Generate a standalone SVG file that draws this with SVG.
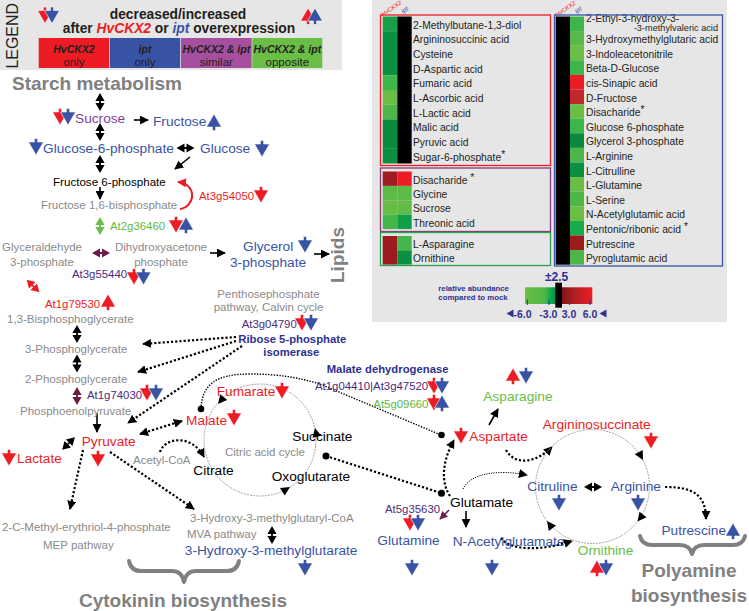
<svg xmlns="http://www.w3.org/2000/svg" width="749" height="611" viewBox="0 0 749 611">
<defs>
<style>
text{font-family:"Liberation Sans",Arial,sans-serif}
.g{fill:#8a8a8a;font-size:11.5px}
.b{fill:#3953a4;font-size:13.7px}
.r{fill:#ed1c24;font-size:13.7px}
.k{fill:#000;font-size:13.7px}
.gr{fill:#6abd45;font-size:13.7px}
.gene{font-size:11.4px;fill:#4b2c80}
.nv{fill:#2e3192;font-weight:bold;font-size:11.3px}
.sec{fill:#808080;font-weight:bold;font-size:19px}
.hm{font-size:10.3px;fill:#231f20}
.R{fill:#ed1c24}.B{fill:#3953a4}
.tri{stroke:#fff;stroke-width:0.6}
.dot{fill:none;stroke:#000;stroke-width:2.2;stroke-dasharray:2.2 2}
.dot2{fill:none;stroke:#000;stroke-width:1.4;stroke-dasharray:1.4 1.4}
.thin{fill:none;stroke:#000;stroke-width:1;stroke-dasharray:1.2 1.2}
.sol{fill:none;stroke:#000;stroke-width:1.6}
.cyc{fill:none;stroke:#8a8a8a;stroke-width:0.8;stroke-dasharray:2 1}
.brace{fill:none;stroke:#808080;stroke-width:4;stroke-linecap:round;stroke-linejoin:round}
.lb{font-size:10.5px;font-weight:bold;font-style:italic;fill:#231f20}
.lr{font-size:11.5px;fill:#231f20}
</style>
<path id="dn" d="M-1.6,-8.5H1.6V-5H7.5L0,8L-7.5,-5H-1.6Z"/>
<path id="up" d="M-1.6,8.5H1.6V5H7.5L0,-8L-7.5,5H-1.6Z"/>
<path id="dbl" d="M0,-9L4.6,-1H-4.6ZM0,9L4.6,1H-4.6ZM-0.9,-1H0.9V1H-0.9Z"/>
<path id="ahd" d="M0,0L-9,-4.5L-9,4.5Z"/>
<marker id="a" viewBox="0 0 10 10" refX="9" refY="5" markerWidth="9" markerHeight="9" markerUnits="userSpaceOnUse" orient="auto"><path d="M0,0L10,5L0,10Z"/></marker>
<marker id="as" viewBox="0 0 10 10" refX="9" refY="5" markerWidth="9" markerHeight="9" markerUnits="userSpaceOnUse" orient="auto-start-reverse"><path d="M0,0L10,5L0,10Z"/></marker>
<marker id="ar" viewBox="0 0 10 10" refX="9" refY="5" markerWidth="9" markerHeight="9" markerUnits="userSpaceOnUse" orient="auto"><path d="M0,0L10,5L0,10Z" fill="#ed1c24"/></marker>
<marker id="am" viewBox="0 0 10 10" refX="9" refY="5" markerWidth="8" markerHeight="8" markerUnits="userSpaceOnUse" orient="auto"><path d="M0,0L10,5L0,10Z" fill="#6b1d46"/></marker>
<linearGradient id="sg" gradientUnits="userSpaceOnUse" x1="525" y1="0" x2="592.3" y2="0">
<stop offset="0" stop-color="#6cbe45"/><stop offset="0.3" stop-color="#4bb748"/><stop offset="0.4" stop-color="#00a651"/><stop offset="0.46" stop-color="#0a8f3f"/><stop offset="0.54" stop-color="#7d1416"/><stop offset="0.75" stop-color="#b41f24"/><stop offset="1" stop-color="#ed1c24"/>
</linearGradient>
</defs>
<rect width="749" height="611" fill="#fff"/>

<g id="legend">
<rect x="0" y="0" width="342" height="70" fill="#e6e6e6"/>
<text transform="translate(18,68.5) rotate(-90)" font-size="17" textLength="65.5" lengthAdjust="spacingAndGlyphs" fill="#231f20">LEGEND</text>
<use href="#dn" x="45" y="15.5" class="R tri"/><use href="#dn" x="52" y="15.5" class="B tri"/>
<use href="#up" x="308" y="16" class="R tri"/><use href="#up" x="315" y="16" class="B tri"/>
<text x="178" y="18.5" text-anchor="middle" font-weight="bold" font-size="13.8" fill="#231f20">decreased/increased</text>
<text x="179" y="33" text-anchor="middle" font-weight="bold" font-size="13.8" fill="#231f20">after <tspan fill="#ed1c24" font-style="italic">HvCKX2</tspan> or <tspan fill="#3953a4" font-style="italic">ipt</tspan> overexpression</text>
<rect x="38.7" y="38" width="70.3" height="30" fill="#ed1c24"/>
<rect x="109.7" y="38" width="70.5" height="30" fill="#3953a4"/>
<rect x="181" y="38" width="70.7" height="30" fill="#a54f9e"/>
<rect x="252.3" y="38" width="70" height="30" fill="#6abd45"/>
<text x="74" y="53" text-anchor="middle" class="lb">HvCKX2</text><text x="74" y="65.5" text-anchor="middle" class="lr">only</text>
<text x="145" y="53" text-anchor="middle" class="lb">ipt</text><text x="145" y="65.5" text-anchor="middle" class="lr">only</text>
<text x="216.3" y="53" text-anchor="middle" class="lb">HvCKX2 &amp; ipt</text><text x="216.3" y="65.5" text-anchor="middle" class="lr">similar</text>
<text x="287.3" y="53" text-anchor="middle" class="lb">HvCKX2 &amp; ipt</text><text x="287.3" y="65.5" text-anchor="middle" class="lr">opposite</text>
</g>

<g id="heatmap">
<rect x="372" y="0" width="355" height="322" fill="#e6e6e6"/>
<text transform="translate(383,16.5) rotate(-34)" font-size="6" font-style="italic" fill="#ed1c24">HvCKX2</text>
<text transform="translate(403,13.5) rotate(-34)" font-size="6.5" font-style="italic" fill="#3953a4">ipt</text>
<text transform="translate(557,17) rotate(-34)" font-size="6" font-style="italic" fill="#ed1c24">HvCKX2</text>
<text transform="translate(576.5,13.5) rotate(-34)" font-size="6.5" font-style="italic" fill="#3953a4">ipt</text>
<g id="box-hvckx2">
<rect x="382.7" y="16.5" width="14.6" height="14.7" fill="#1a9f49"/>
<rect x="382.7" y="31.2" width="14.6" height="44.1" fill="#0b8f41"/>
<rect x="382.7" y="75.3" width="14.6" height="14.7" fill="#40b54a"/>
<rect x="382.7" y="90" width="14.6" height="14.7" fill="#6abd45"/>
<rect x="382.7" y="104.7" width="14.6" height="14.7" fill="#4cb748"/>
<rect x="382.7" y="119.4" width="14.6" height="29.4" fill="#0a8a3d"/>
<rect x="382.7" y="148.8" width="14.6" height="14.7" fill="#0c8e40"/>
<rect x="397.3" y="16.5" width="14.4" height="147" fill="#000"/>
<text x="413" y="28.5" class="hm">2-Methylbutane-1,3-diol</text>
<text x="413" y="43.2" class="hm">Argininosuccinic acid</text>
<text x="413" y="57.9" class="hm">Cysteine</text>
<text x="413" y="72.6" class="hm">D-Aspartic acid</text>
<text x="413" y="87.3" class="hm">Fumaric acid</text>
<text x="413" y="102" class="hm">L-Ascorbic acid</text>
<text x="413" y="116.7" class="hm">L-Lactic acid</text>
<text x="413" y="131.4" class="hm">Malic acid</text>
<text x="413" y="146.1" class="hm">Pyruvic acid</text>
<text x="413" y="160.8" class="hm">Sugar-6-phosphate<tspan dy="-3">*</tspan></text>
<rect x="380.5" y="15" width="170" height="150.5" fill="none" stroke="#ed1c24" stroke-width="1.3"/>
</g>
<g id="box-similar">
<rect x="382.7" y="171.5" width="14.6" height="14.4" fill="#a01c21"/><rect x="397.3" y="171.5" width="14.4" height="14.4" fill="#ed1c24"/>
<rect x="382.7" y="185.9" width="14.6" height="14.4" fill="#5cba47"/><rect x="397.3" y="185.9" width="14.4" height="14.4" fill="#5cba47"/>
<rect x="382.7" y="200.3" width="14.6" height="14.4" fill="#67bc46"/><rect x="397.3" y="200.3" width="14.4" height="14.4" fill="#62bb46"/>
<rect x="382.7" y="214.7" width="14.6" height="14.4" fill="#45b649"/><rect x="397.3" y="214.7" width="14.4" height="14.4" fill="#10a04a"/>
<text x="413" y="183.5" class="hm">Disacharide<tspan dy="-3"> *</tspan></text>
<text x="413" y="197.9" class="hm">Glycine</text>
<text x="413" y="212.3" class="hm">Sucrose</text>
<text x="413" y="226.7" class="hm">Threonic acid</text>
<rect x="380.5" y="168" width="170" height="63.5" fill="none" stroke="#8b3a75" stroke-width="1.3"/>
</g>
<g id="box-opposite">
<rect x="382.7" y="236" width="14.6" height="28.6" fill="#9b1b1f"/>
<rect x="397.3" y="236" width="14.4" height="14.3" fill="#45b649"/>
<rect x="397.3" y="250.3" width="14.4" height="14.3" fill="#0b8f41"/>
<text x="413" y="248" class="hm">L-Asparagine</text>
<text x="413" y="262.3" class="hm">Ornithine</text>
<rect x="380.5" y="232.5" width="170" height="33" fill="none" stroke="#27a151" stroke-width="1.3"/>
</g>
<g id="box-ipt">
<rect x="555.7" y="16.5" width="14.3" height="248.2" fill="#000"/>
<rect x="570" y="16.5" width="14" height="14.6" fill="#3cb54a"/>
<rect x="570" y="31.1" width="14" height="14.6" fill="#57b947"/>
<rect x="570" y="45.7" width="14" height="14.6" fill="#6abd45"/>
<rect x="570" y="60.3" width="14" height="14.6" fill="#3cb54a"/>
<rect x="570" y="74.9" width="14" height="14.6" fill="#ed1c24"/>
<rect x="570" y="89.5" width="14" height="14.6" fill="#c1272d"/>
<rect x="570" y="104.1" width="14" height="14.6" fill="#6abd45"/>
<rect x="570" y="118.7" width="14" height="14.6" fill="#3cb54a"/>
<rect x="570" y="133.3" width="14" height="14.6" fill="#0a8a3d"/>
<rect x="570" y="147.9" width="14" height="14.6" fill="#4cb748"/>
<rect x="570" y="162.5" width="14" height="14.6" fill="#0b8f41"/>
<rect x="570" y="177.1" width="14" height="14.6" fill="#6abd45"/>
<rect x="570" y="191.7" width="14" height="14.6" fill="#4cb748"/>
<rect x="570" y="206.3" width="14" height="14.6" fill="#6abd45"/>
<rect x="570" y="220.9" width="14" height="14.6" fill="#19ac4b"/>
<rect x="570" y="235.5" width="14" height="14.6" fill="#9b1b1f"/>
<rect x="570" y="250.1" width="14" height="14.6" fill="#4cb748"/>
<text x="586" y="22" class="hm">2-Ethyl-3-hydroxy-3-</text>
<text x="718" y="30.5" font-size="9.2" fill="#231f20" text-anchor="end">-3-methylvaleric acid</text>
<text x="586" y="43.1" class="hm">3-Hydroxymethylglutaric acid</text>
<text x="586" y="57.7" class="hm">3-Indoleacetonitrile</text>
<text x="586" y="72.3" class="hm">Beta-D-Glucose</text>
<text x="586" y="86.9" class="hm">cis-Sinapic acid</text>
<text x="586" y="101.5" class="hm">D-Fructose</text>
<text x="586" y="116.1" class="hm">Disacharide<tspan dy="-3">*</tspan></text>
<text x="586" y="130.7" class="hm">Glucose 6-phosphate</text>
<text x="586" y="145.3" class="hm">Glycerol 3-phosphate</text>
<text x="586" y="159.9" class="hm">L-Arginine</text>
<text x="586" y="174.5" class="hm">L-Citrulline</text>
<text x="586" y="189.1" class="hm">L-Glutamine</text>
<text x="586" y="203.7" class="hm">L-Serine</text>
<text x="586" y="218.3" class="hm">N-Acetylglutamic acid</text>
<text x="586" y="232.9" class="hm">Pentonic/ribonic acid<tspan dy="-3"> *</tspan></text>
<text x="586" y="247.5" class="hm">Putrescine</text>
<text x="586" y="262.1" class="hm">Pyroglutamic acid</text>
<rect x="554.5" y="15" width="168" height="251" fill="none" stroke="#3953a4" stroke-width="1.3"/>
</g>
<g id="scale">
<text x="545" y="281" font-size="12" font-weight="bold" fill="#2e3192">±2.5</text>
<text x="438.3" y="290.5" font-size="7.8" font-weight="bold" fill="#2e3192">relative abundance</text>
<text x="438.3" y="300" font-size="7.8" font-weight="bold" fill="#2e3192">compared to mock</text>
<rect x="525" y="287.3" width="67.3" height="16.7" fill="url(#sg)"/>
<rect x="555.3" y="282.7" width="6.7" height="25" fill="#000"/>
<path d="M527.3,299.5V305M549,299.5V305M569.3,299.5V305M590,299.5V305" stroke="#2e3192" stroke-width="1"/>
<polygon points="506.5,313.5 513.5,309.5 513.5,317.5" fill="#2e3192"/>
<polygon points="599.5,313.5 606.5,309.5 606.5,317.5" fill="#2e3192"/>
<text y="317.5" font-size="10.5" font-weight="bold" fill="#2e3192"><tspan x="513.5">-6.0</tspan><tspan x="539.3">-3.0</tspan><tspan x="561.7">3.0</tspan><tspan x="582.7">6.0</tspan></text>
</g>
</g>

<g id="connectors">
<path class="sol" d="M134,120H148" marker-end="url(#a)"/>
<path class="sol" d="M190,157L175,169" marker-end="url(#a)"/>
<path class="sol" d="M100,187V199" marker-end="url(#a)"/>
<path class="sol" d="M210,253H225" marker-end="url(#a)"/>
<path class="sol" d="M314,254H329" marker-end="url(#a)"/>
<path class="sol" d="M97,413V432" marker-end="url(#a)"/>
<path class="sol" d="M466,511V527" marker-end="url(#a)"/>
<path class="sol" d="M489,425L498,409" marker-end="url(#a)"/>
<path d="M449,510L440,519" fill="none" stroke="#6b1d46" stroke-width="1.6" marker-end="url(#am)"/>
<path d="M180,209C196,206 197,184 178,182" fill="none" stroke="#ed1c24" stroke-width="2" marker-end="url(#ar)"/>
<use href="#dbl" x="100" y="102"/>
<use href="#dbl" x="100" y="132"/>
<use href="#dbl" x="100" y="164"/>
<use href="#dbl" x="100" y="226" fill="#6abd45"/>
<use href="#dbl" transform="translate(101,253) rotate(90)" fill="#6b1d46"/>
<use href="#dbl" transform="translate(185.5,148) rotate(90)"/>
<use href="#dbl" transform="translate(33,286) rotate(-45)" fill="#ed1c24"/>
<use href="#dbl" x="77" y="334"/>
<use href="#dbl" x="77" y="363.5"/>
<use href="#dbl" x="77" y="396" fill="#6b1d46"/>
<use href="#dbl" transform="translate(68.5,443.5) rotate(45)"/>
<use href="#dbl" x="272" y="535"/>
<use href="#dbl" transform="translate(593,487) rotate(90)"/>
<path class="dot" d="M236,337L143,344" marker-end="url(#a)"/>
<path class="dot" d="M236,341L138,372" marker-end="url(#a)"/>
<path class="dot" d="M242,346L128,423" marker-end="url(#a)"/>
<path class="dot" d="M140,434L182,421" marker-start="url(#as)" marker-end="url(#a)"/>
<path class="dot" d="M83,450L70,509" marker-end="url(#a)"/>
<path class="dot" d="M110,452L194,509" marker-end="url(#a)"/>
<path class="dot" d="M160,452C165,437 192,434 204,457" marker-end="url(#a)"/>
<path class="dot2" d="M201,409C202,385 215,374 250,374C280,374 300,378 320,384L441,435"/>
<circle cx="201" cy="409" r="3.3"/><circle cx="441.5" cy="435" r="3.3"/>
<path class="dot" d="M326,456L441,493"/>
<circle cx="326" cy="456" r="3.5"/><circle cx="441.5" cy="493.3" r="3.5"/>
<path class="dot" d="M450,496C440,481 443,460 454,440" marker-end="url(#a)"/>
<path class="dot" d="M506,450C515,466 536,463 552,447" marker-end="url(#a)"/>
<path class="thin" d="M463,489C470,474 496,469 527,475" marker-end="url(#a)"/>
<path class="dot" d="M665,487C692,487 706,494 706,519" marker-end="url(#a)"/>
<path class="dot" d="M501,538C510,551 542,551 572,541" marker-end="url(#a)"/>
<circle class="cyc" cx="260" cy="440" r="56"/>
<circle class="cyc" cx="592.5" cy="486.5" r="57"/>
<use href="#ahd" transform="translate(315,428) rotate(-102)"/>
<use href="#ahd" transform="translate(290,487) rotate(-32)"/>
<use href="#ahd" transform="translate(218,404) rotate(130)"/>
<use href="#ahd" transform="translate(643,460) rotate(62)"/>
<use href="#ahd" transform="translate(637.5,521.5) rotate(128)"/>
<use href="#ahd" transform="translate(547,521) rotate(-127)"/>
</g>

<g id="titles">
<text x="12" y="90" class="sec">Starch metabolism</text>
<text transform="translate(344,283) rotate(-90)" class="sec">Lipids</text>
<text x="79" y="607" class="sec" font-size="19.2">Cytokinin biosynthesis</text>
<text x="689" y="577" class="sec" text-anchor="middle" font-size="18.6">Polyamine</text>
<text x="689" y="601.5" class="sec" text-anchor="middle" font-size="18.6">biosynthesis</text>
<path class="brace" d="M129,561Q131,571 141,571L172,571Q182,571 184,582Q186,571 196,571L227,571Q237,571 239,561"/>
<path class="brace" d="M640,536Q642,545 652,545L680,545Q690,545 692,554Q694,545 704,545L733,545Q743,545 745,536"/>
</g>

<g id="n-sucrose"><use href="#dn" x="60" y="117" class="R tri"/><use href="#dn" x="68" y="117" class="B tri"/><text x="75" y="122.5" font-size="13.7" fill="#7f3f98">Sucrose</text></g>
<g id="n-fructose"><text x="153" y="126" class="b">Fructose</text><use href="#up" x="214" y="122" class="B tri"/></g>
<g id="n-g6p"><use href="#dn" x="36" y="147" class="B tri"/><text x="43" y="152.5" class="b" font-size="13.9">Glucose-6-phosphate</text></g>
<g id="n-glucose"><text x="200" y="152.5" class="b" font-size="13.9">Glucose</text><use href="#dn" x="262" y="149" class="B tri"/></g>
<g id="n-f6p"><text x="53" y="185.5" font-size="11.6" fill="#000">Fructose 6-phosphate</text></g>
<g id="n-f16bp"><text x="41" y="209" class="g" font-size="12">Fructose 1,6-bisphosphate</text></g>
<g id="n-at3g54050"><text x="199" y="199.5" class="gene" style="fill:#ed1c24">At3g54050</text><use href="#dn" x="261" y="195" class="R tri"/></g>
<g id="n-at2g36460"><text x="110" y="230" class="gene" style="fill:#5fb846">At2g36460</text><use href="#dn" x="176" y="225" class="R tri"/><use href="#up" x="186" y="225" class="B tri"/></g>
<g id="n-g3p"><text x="42" y="251" class="g" font-size="11" text-anchor="middle">Glyceraldehyde</text><text x="42" y="265.5" class="g" font-size="11" text-anchor="middle">3-phosphate</text></g>
<g id="n-dhap"><text x="161" y="251" class="g" font-size="11" text-anchor="middle">Dihydroxyacetone</text><text x="161" y="265.5" class="g" font-size="11" text-anchor="middle">phosphate</text></g>
<g id="n-glycerol3p"><text x="243" y="250.5" class="b" font-size="14.2">Glycerol</text><use href="#dn" x="305" y="245" class="B tri"/><text x="230" y="267" class="b" font-size="13.8">3-phosphate</text></g>
<g id="n-at3g55440"><text x="72" y="277.5" class="gene">At3g55440</text><use href="#dn" x="134" y="277" class="R tri"/><use href="#dn" x="143.5" y="277" class="B tri"/></g>
<g id="n-at1g79530"><text x="45" y="307.5" class="gene" style="fill:#ed1c24">At1g79530</text><use href="#up" x="108" y="302" class="R tri"/></g>
<g id="n-13bpg"><text x="7" y="322.5" class="g">1,3-Bisphosphoglycerate</text></g>
<g id="n-3pg"><text x="25" y="352.5" class="g" font-size="11.2">3-Phosphoglycerate</text></g>
<g id="n-2pg"><text x="25" y="382.5" class="g" font-size="11.2">2-Phosphoglycerate</text></g>
<g id="n-at1g74030"><text x="87" y="399" class="gene">At1g74030</text><use href="#dn" x="147" y="393" class="R tri"/><use href="#dn" x="156" y="393" class="B tri"/></g>
<g id="n-pep"><text x="20" y="414.5" class="g" font-size="11.6">Phosphoenolpyruvate</text></g>
<g id="n-pyruvate"><text x="81.7" y="446" class="r">Pyruvate</text><use href="#dn" x="98" y="459" class="R tri"/></g>
<g id="n-lactate"><use href="#dn" x="9" y="458" class="R tri"/><text x="17" y="463" class="r">Lactate</text></g>
<g id="n-malate"><text x="186" y="424.5" class="r" font-size="13.3">Malate</text><use href="#dn" x="234" y="418" class="R tri"/></g>
<g id="n-fumarate"><text x="216.7" y="396" class="r">Fumarate</text><use href="#dn" x="282" y="391" class="R tri"/></g>
<g id="n-acetylcoa"><text x="133" y="464" class="g" font-size="11">Acetyl-CoA</text></g>
<g id="n-citrate"><text x="193.3" y="474.5" class="k">Citrate</text></g>
<g id="n-tca"><text x="225" y="455.5" class="g">Citric acid cycle</text></g>
<g id="n-succinate"><text x="292.3" y="440.5" class="k">Succinate</text></g>
<g id="n-oxoglutarate"><text x="271.7" y="480.5" class="k" font-size="13.8">Oxoglutarate</text></g>
<g id="n-ppp"><text x="268.5" y="297.5" class="g" font-size="11.4" text-anchor="middle">Penthosephosphate</text><text x="268.5" y="311" class="g" font-size="11.4" text-anchor="middle">pathway, Calvin cycle</text></g>
<g id="n-at3g04790"><text x="241.7" y="327.5" class="gene">At3g04790</text><use href="#dn" x="302" y="323" class="R tri"/><use href="#dn" x="311" y="323" class="B tri"/></g>
<g id="n-r5pi"><text x="238.3" y="342.5" class="nv" font-size="11.2">Ribose 5-phosphate</text><text x="291.3" y="355.5" class="nv" font-size="11.2" text-anchor="middle">isomerase</text></g>
<g id="n-mdh"><text x="326.7" y="372.5" class="nv">Malate dehydrogenase</text>
<text x="315" y="389.5" class="gene">At1g04410|At3g47520</text><use href="#dn" x="434" y="386" class="R tri"/><use href="#dn" x="442" y="386" class="B tri"/>
<text x="373.3" y="407.5" class="gene" style="fill:#5fb846">At5g09660</text><use href="#dn" x="434" y="403" class="R tri"/><use href="#up" x="442" y="403" class="B tri"/></g>
<g id="n-asparagine"><use href="#up" x="513" y="376" class="R tri"/><use href="#dn" x="526" y="376" class="B tri"/><text x="483.3" y="400.5" class="gr">Asparagine</text></g>
<g id="n-aspartate"><use href="#dn" x="461" y="436" class="R tri"/><text x="469.3" y="441" class="r">Aspartate</text></g>
<g id="n-argsucc"><text x="542.7" y="429" class="r">Argininosuccinate</text><use href="#dn" x="651" y="441" class="R tri"/></g>
<g id="n-citruline"><text x="527.3" y="490.5" class="b">Citruline</text><use href="#dn" x="559" y="503" class="B tri"/></g>
<g id="n-arginine"><text x="610.7" y="491" class="b">Arginine</text><use href="#dn" x="638" y="503" class="B tri"/></g>
<g id="n-putrescine"><text x="661.4" y="534.5" class="b" font-size="13.2">Putrescine</text><use href="#up" x="733" y="531" class="B tri"/></g>
<g id="n-ornithine"><text x="577.8" y="554.5" class="gr">Ornithine</text><use href="#up" x="597" y="568" class="R tri"/><use href="#dn" x="606" y="568" class="B tri"/></g>
<g id="n-glutamate"><text x="450" y="507" class="k">Glutamate</text></g>
<g id="n-nag"><text x="452.7" y="545.5" class="b">N-Acetylglutamate</text><use href="#dn" x="492" y="568" class="B tri"/></g>
<g id="n-glutamine"><text x="385" y="512.5" class="gene">At5g35630</text><use href="#dn" x="410" y="523" class="R tri"/><use href="#dn" x="418" y="523" class="B tri"/><text x="377.3" y="545" class="b">Glutamine</text><use href="#dn" x="412" y="568" class="B tri"/></g>
<g id="n-mep"><text x="2" y="530.5" class="g">2-C-Methyl-erythriol-4-phosphate</text><text x="43" y="548.5" class="g" font-size="11.6">MEP pathway</text></g>
<g id="n-hmgcoa"><text x="190" y="521.5" class="g" font-size="11.6">3-Hydroxy-3-methylglutaryl-CoA</text><text x="187" y="537.5" class="g" font-size="11.6">MVA pathway</text></g>
<g id="n-hmg"><text x="184.8" y="555" class="b" font-size="14">3-Hydroxy-3-methylglutarate</text><use href="#dn" x="305" y="568" class="B tri"/></g>
</svg>
